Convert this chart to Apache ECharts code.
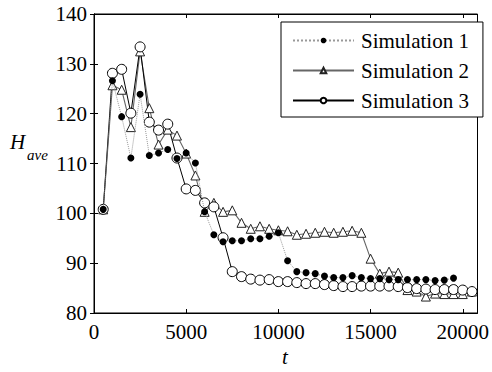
<!DOCTYPE html>
<html>
<head>
<meta charset="utf-8">
<script src="https://cdn.jsdelivr.net/npm/echarts@6/dist/echarts.min.js"></script>
<style>
  html, body { margin: 0; padding: 0; background: #fff; }
  #chart { width: 492px; height: 372px; }
</style>
</head>
<body>
<div id="chart"></div>
<script>
// time steps (every 500)
const tSim1 = [500, 1000, 1500, 2000, 2500, 3000, 3500, 4000, 4500, 5000, 5500, 6000, 6500, 7000, 7500, 8000, 8500, 9000, 9500, 10000,
  10500, 11000, 11500, 12000, 12500, 13000, 13500, 14000, 14500, 15000, 15500, 16000, 16500, 17000, 17500, 18000, 18500, 19000, 19500]
const hSim1 = [100.8, 126.6, 119.4, 111.1, 123.9, 111.6, 112.1, 112.8, 111.0, 112.1, 110.1, 100.3, 95.7, 94.3, 94.5, 94.5, 94.9, 94.9, 95.4, 96.1,
  90.5, 88.3, 88.1, 87.9, 87.4, 87.1, 87.1, 87.5, 87.1, 86.9, 86.9, 86.7, 86.7, 86.7, 86.7, 86.7, 86.5, 86.6, 87.0]

const tSim2 = [500, 1000, 1500, 2000, 2500, 3000, 3500, 4000, 4500, 5000, 5500, 6000, 6500, 7000, 7500, 8000, 8500, 9000, 9500, 10000,
  10500, 11000, 11500, 12000, 12500, 13000, 13500, 14000, 14500, 15000, 15500, 16000, 16500, 17000, 17500, 18000, 18500, 19000, 19500, 20000, 20500]
const hSim2 = [100.8, 125.7, 124.8, 117.3, 132.5, 121.1, 113.8, 116.8, 115.6, 112.0, 107.6, 100.3, 102.1, 100.3, 100.6, 98.1, 96.9, 97.4, 96.9, 96.6,
  96.4, 95.7, 95.9, 96.1, 96.3, 96.1, 96.3, 96.5, 96.1, 90.9, 87.9, 88.3, 88.1, 84.6, 84.3, 83.3, 83.9, 83.8, 83.8, 83.8, 84.3]

const tSim3 = [500, 1000, 1500, 2000, 2500, 3000, 3500, 4000, 4500, 5000, 5500, 6000, 6500, 7000, 7500, 8000, 8500, 9000, 9500, 10000,
  10500, 11000, 11500, 12000, 12500, 13000, 13500, 14000, 14500, 15000, 15500, 16000, 16500, 17000, 17500, 18000, 18500, 19000, 19500, 20000, 20500]
const hSim3 = [100.8, 128.1, 128.9, 120.1, 133.4, 118.3, 116.7, 117.9, 111.1, 104.9, 104.6, 102.1, 101.3, 95.1, 88.3, 87.3, 86.8, 86.6, 86.7, 86.3,
  86.3, 86.1, 85.9, 85.9, 85.7, 85.5, 85.3, 85.3, 85.4, 85.4, 85.4, 85.4, 85.3, 85.1, 84.9, 84.8, 84.7, 84.7, 84.7, 84.6, 84.3]

const seriesNames = ['Simulation 1', 'Simulation 2', 'Simulation 3']
const xTicks = [0, 5000, 10000, 15000, 20000]
const yTicks = [80, 90, 100, 110, 120, 130, 140]

const FONT = 'Liberation Serif'

const pairs = (xs, ys) => xs.map((x, i) => [x, ys[i]])

// svg renderer: text goes through the browser's own font matching
const chart = echarts.init(document.getElementById('chart'), null, { renderer: 'svg' })

const axisCommon = {
  axisLine: { show: true, lineStyle: { color: '#000', width: 1 } },
  axisTick: { show: true, inside: true, length: 4, lineStyle: { color: '#000' } },
  splitLine: { show: false }
}

chart.setOption({
  animation: false,
  backgroundColor: '#fff',
  textStyle: { fontFamily: FONT },
  grid: {
    left: 94,
    right: 10,
    top: 14,
    bottom: 59,
    show: true,
    borderColor: '#000',
    borderWidth: 1
  },
  xAxis: [
    {
      type: 'value',
      min: xTicks[0],
      max: 20800,
      interval: 5000,
      ...axisCommon,
      axisLabel: {
        fontFamily: FONT, fontSize: 21, color: '#000', margin: 8,
        showMaxLabel: false,
        formatter: v => String(v)
      }
    },
    {
      type: 'value',
      position: 'top',
      min: xTicks[0],
      max: 20800,
      interval: 5000,
      ...axisCommon,
      axisLabel: { show: false }
    }
  ],
  yAxis: [
    {
      type: 'value',
      min: yTicks[0],
      max: yTicks[yTicks.length - 1],
      interval: 10,
      ...axisCommon,
      axisLabel: { fontFamily: FONT, fontSize: 21, color: '#000', margin: 7 }
    },
    {
      type: 'value',
      position: 'right',
      min: yTicks[0],
      max: yTicks[yTicks.length - 1],
      interval: 10,
      ...axisCommon,
      axisLabel: { show: false }
    }
  ],
  legend: {
    orient: 'vertical',
    left: 281,
    top: 22,
    padding: [8, 14, 6, 11],
    itemGap: 9,
    itemWidth: 61,
    itemHeight: 7,
    backgroundColor: '#fff',
    borderColor: '#000',
    borderWidth: 1,
    borderRadius: 0,
    textStyle: { color: '#000', fontFamily: FONT, fontSize: 21, lineHeight: 20, padding: [0, 0, 0, 2] },
    data: seriesNames
  },
  series: [
    {
      name: seriesNames[0],
      type: 'line',
      data: pairs(tSim1, hSim1),
      symbol: 'circle',
      symbolSize: 7,
      itemStyle: { color: '#000' },
      lineStyle: { color: '#999', width: 1, type: 'dotted' },
      z: 3
    },
    {
      name: seriesNames[1],
      type: 'line',
      data: pairs(tSim2, hSim2),
      symbol: 'triangle',
      symbolSize: 9,
      itemStyle: { color: '#fff', borderColor: '#222', borderWidth: 1 },
      lineStyle: { color: '#666', width: 1.1 },
      z: 2
    },
    {
      name: seriesNames[2],
      type: 'line',
      data: pairs(tSim3, hSim3),
      symbol: 'circle',
      symbolSize: 10,
      itemStyle: { color: '#fff', borderColor: '#000', borderWidth: 1 },
      lineStyle: { color: '#000', width: 1 },
      z: 2
    }
  ],
  graphic: [
    { type: 'text', left: 10, top: 131, style: { text: 'H', fill: '#000', fontFamily: FONT, fontStyle: 'italic', fontSize: 21 } },
    { type: 'text', left: 27, top: 147, style: { text: 'ave', fill: '#000', fontFamily: FONT, fontStyle: 'italic', fontSize: 15 } },
    { type: 'text', left: 282, top: 346, style: { text: 't', fill: '#000', fontFamily: FONT, fontStyle: 'italic', fontSize: 21 } }
  ]
})
</script>
</body>
</html>
